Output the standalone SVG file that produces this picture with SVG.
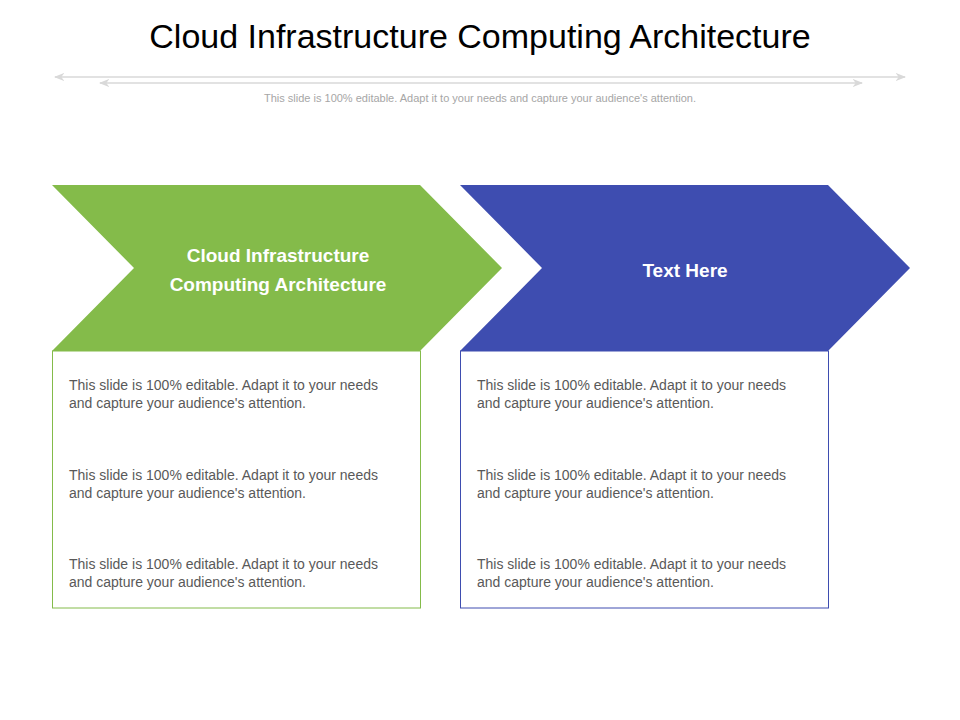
<svg xmlns="http://www.w3.org/2000/svg" width="960" height="720" viewBox="0 0 960 720">
<style>
.t{font-family:"Liberation Sans",Arial,sans-serif}
.b{font-size:14px;fill:#595959}
.h{font-size:19px;font-weight:bold;fill:#fff;text-anchor:middle}
.ln{stroke:#d9d9d9;stroke-width:1.5;fill:none}
</style>
<defs>
<marker id="a" viewBox="0 0 10 10" refX="9" refY="5" markerWidth="7" markerHeight="7" orient="auto-start-reverse"><path d="M0,1 L10,5 L0,9 L3,5 Z" fill="#d9d9d9"/></marker>
</defs>
<rect width="960" height="720" fill="#fff"/>
<text class="t" x="480" y="48" font-size="34" fill="#000" text-anchor="middle">Cloud Infrastructure  Computing Architecture</text>
<g id="connectors">
<line class="ln" x1="55" y1="77" x2="905" y2="77" marker-start="url(#a)" marker-end="url(#a)"/>
<line class="ln" x1="100" y1="83" x2="862" y2="83" marker-start="url(#a)" marker-end="url(#a)"/>
</g>
<text class="t" x="480" y="102" font-size="11" fill="#a6a6a6" text-anchor="middle">This slide is 100% editable. Adapt it to your needs and capture your audience's attention.</text>
<g id="node1">
<polygon points="52,185 420,185 502,268 420,351 52,351 134,268" fill="#84bb4a"/>
<text class="t h" x="278" y="262">Cloud Infrastructure</text>
<text class="t h" x="278" y="291">Computing Architecture</text>
<rect x="52.5" y="351" width="368" height="257" fill="none" stroke="#84bb4a" stroke-width="1"/>
<g class="t b">
<text x="69" y="390">This slide is 100% editable. Adapt it to your needs</text>
<text x="69" y="408">and capture your audience's attention.</text>
<text x="69" y="480">This slide is 100% editable. Adapt it to your needs</text>
<text x="69" y="498">and capture your audience's attention.</text>
<text x="69" y="569">This slide is 100% editable. Adapt it to your needs</text>
<text x="69" y="587">and capture your audience's attention.</text>
</g>
</g>
<g id="node2">
<polygon points="460,185 828,185 910,268 828,351 460,351 542,268" fill="#3e4db0"/>
<text class="t h" x="685" y="277" font-size="18">Text Here</text>
<rect x="460.5" y="351" width="368" height="257" fill="none" stroke="#3e4db0" stroke-width="1"/>
<g class="t b">
<text x="477" y="390">This slide is 100% editable. Adapt it to your needs</text>
<text x="477" y="408">and capture your audience's attention.</text>
<text x="477" y="480">This slide is 100% editable. Adapt it to your needs</text>
<text x="477" y="498">and capture your audience's attention.</text>
<text x="477" y="569">This slide is 100% editable. Adapt it to your needs</text>
<text x="477" y="587">and capture your audience's attention.</text>
</g>
</g>
</svg>
